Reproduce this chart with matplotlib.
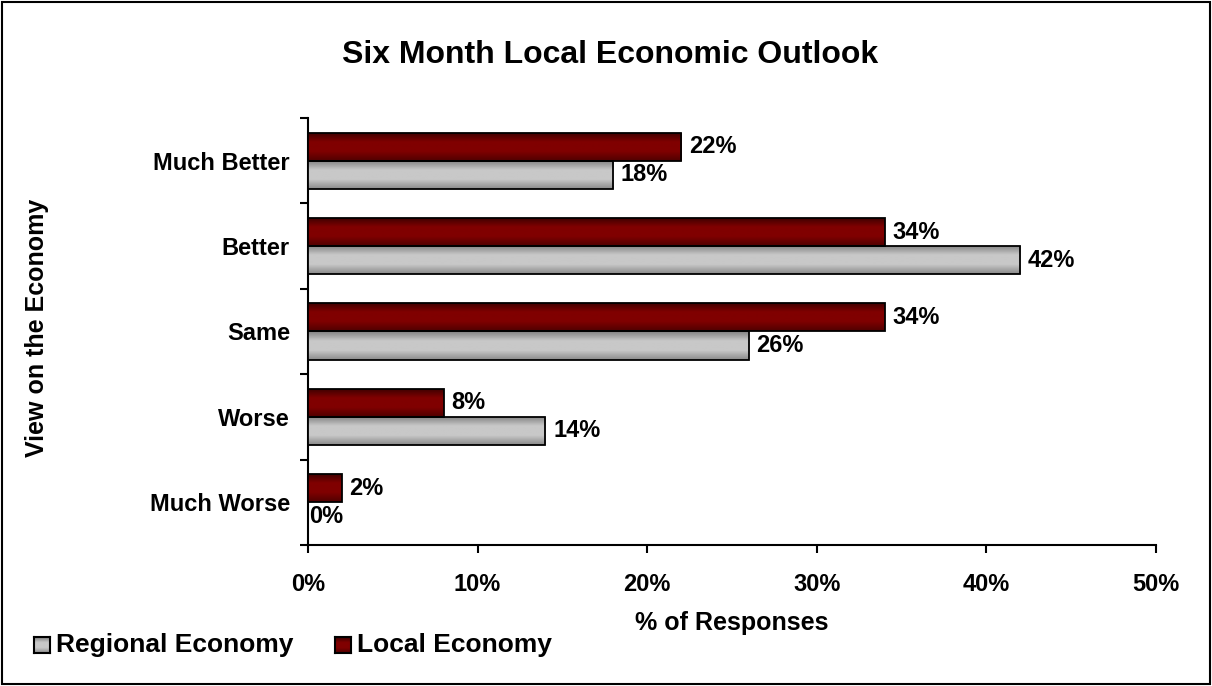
import numpy as np
import matplotlib.pyplot as plt
from matplotlib.colors import LinearSegmentedColormap
from matplotlib.patches import Rectangle

categories = ['Much Worse', 'Worse', 'Same', 'Better', 'Much Better']
regional = [0, 14, 26, 42, 18]
local = [2, 8, 34, 34, 22]
xticks = [0, 10, 20, 30, 40, 50]

plt.rcParams['font.family'] = ['Liberation Sans', 'DejaVu Sans']
plt.rcParams['font.weight'] = 'bold'

fig = plt.figure(figsize=(12.12, 6.86), dpi=100)
ax = fig.add_axes([308 / 1212, 1 - 545 / 686, (1156 - 308) / 1212, (545 - 118) / 686])

y = np.arange(len(categories))
h = 0.33
bars_loc = ax.barh(y + h / 2, local, height=h, color='#7f0000', edgecolor='black', linewidth=1.3, zorder=3)
bars_reg = ax.barh(y - h / 2, regional, height=h, color='#c0c0c0', edgecolor='black', linewidth=1.3, zorder=3)

red_cm = LinearSegmentedColormap.from_list('r', ['#3a0000', '#800000', '#800000', '#500000'])
grey_cm = LinearSegmentedColormap.from_list('g', ['#808080', '#c8c8c8', '#c8c8c8', '#8a8a8a'])
grad = np.linspace(0, 1, 64).reshape(-1, 1)


def shade(bars, cmap):
    for b in bars:
        if b.get_width() <= 0:
            b.set_visible(False)
            continue
        x0, y0 = b.get_x(), b.get_y()
        im = ax.imshow(grad, cmap=cmap, aspect='auto', origin='upper',
                       extent=[x0, x0 + b.get_width(), y0, y0 + b.get_height()], zorder=3)
        im.set_clip_path(b)
        b.set_facecolor('none')
        b.set_zorder(4)


shade(bars_loc, red_cm)
shade(bars_reg, grey_cm)

for yy, v in zip(y + h / 2, local):
    ax.annotate(f'{v}%', (v, yy), xytext=(5.5, 0), textcoords='offset points',
                va='center', ha='left', fontsize=17, fontweight='bold')
for yy, v in zip(y - h / 2, regional):
    ax.annotate(f'{v}%', (v, yy), xytext=(5.5 if v else 1, 0), textcoords='offset points',
                va='center', ha='left', fontsize=17, fontweight='bold')

ax.set_xlim(0, 50)
ax.set_ylim(-0.5, len(categories) - 0.5)
ax.set_xticks(xticks)
ax.set_xticklabels([f'{t}%' for t in xticks], fontsize=17, fontweight='bold')
ax.set_yticks(np.arange(len(categories) + 1) - 0.5)
ax.set_yticklabels([])
ax.set_yticks(y, minor=True)
ax.set_yticklabels(categories, minor=True, fontsize=17, fontweight='bold')
ax.tick_params(axis='y', which='minor', length=0, pad=13)
ax.tick_params(axis='y', which='major', length=6, width=1.5, direction='out')
ax.tick_params(axis='x', length=6, width=1.5, direction='out', pad=14)

for s in ['top', 'right']:
    ax.spines[s].set_visible(False)
for s in ['left', 'bottom']:
    ax.spines[s].set_linewidth(1.5)

fig.text(732 / 1212, 1 - 623 / 686, '% of Responses', ha='center', va='center',
         fontsize=18, fontweight='bold')
fig.text(37 / 1212, 1 - 328 / 686, 'View on the Economy', rotation=90, ha='center', va='center',
         fontsize=18, fontweight='bold')
fig.text(610 / 1212, 1 - 55 / 686, 'Six Month Local Economic Outlook', ha='center', va='center',
         fontsize=23, fontweight='bold')

# legend
for lx, label, cmap in [(34, 'Regional Economy', grey_cm), (335, 'Local Economy', red_cm)]:
    lax = fig.add_axes([lx / 1212, 1 - 653 / 686, 16 / 1212, 16 / 686])
    lax.imshow(grad, cmap=cmap, aspect='auto')
    lax.set_xticks([])
    lax.set_yticks([])
    for sp in lax.spines.values():
        sp.set_linewidth(1.5)
    fig.text((lx + 22) / 1212, 1 - 645 / 686, label, ha='left', va='center', fontsize=19, fontweight='bold')

fig.patches.append(Rectangle((0.002, 0.003), 0.996, 0.994, transform=fig.transFigure,
                             fill=False, edgecolor='black', linewidth=1.5))

fig.savefig('out.png', dpi=100)
